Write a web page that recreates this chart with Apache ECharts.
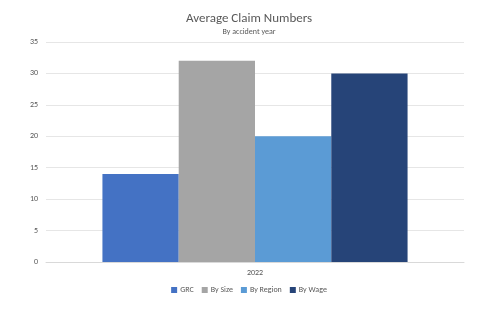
<!DOCTYPE html>
<html><head><meta charset="utf-8">
<script src="https://cdn.jsdelivr.net/npm/echarts@6/dist/echarts.min.js"></script>
<style>html,body{margin:0;padding:0;background:#fff}#c{width:498px;height:312px}</style>
</head><body><div id="c"></div>
<script>
const categories = ['2022'];
const seriesNames = ['GRC', 'By Size', 'By Region', 'By Wage'];
const grcValues = [14];
const sizeValues = [32];
const regionValues = [20];
const wageValues = [30];
const yTicks = [0, 5, 10, 15, 20, 25, 30, 35];

const colors = ['#4472C4', '#A5A5A5', '#5B9BD5', '#264478'];
const values = [grcValues, sizeValues, regionValues, wageValues];
const font = 'Calibri, Carlito, "Open Sans", sans-serif';

const chart = echarts.init(document.getElementById('c'), null, {renderer: 'canvas'});
chart.setOption({
  animation: false,
  backgroundColor: '#fff',
  title: {
    text: 'Average Claim Numbers',
    subtext: 'By accident year',
    left: 'center',
    top: 7,
    itemGap: 3,
    textStyle: {fontFamily: font, fontSize: 13, fontWeight: 'normal', color: '#595959'},
    subtextStyle: {fontFamily: font, fontSize: 8, color: '#595959'}
  },
  legend: {
    bottom: 13,
    left: 'center',
    itemWidth: 6,
    itemHeight: 6,
    itemGap: 8,
    icon: 'rect',
    textStyle: {fontFamily: font, fontSize: 8, color: '#595959', padding: [0, 0, 0, -2]},
    data: seriesNames
  },
  grid: {left: 46, right: 34, top: 42, bottom: 50},
  xAxis: {
    type: 'category',
    data: categories,
    axisLine: {lineStyle: {color: '#D9D9D9'}},
    axisTick: {show: false},
    axisLabel: {fontFamily: font, fontSize: 8, color: '#595959', margin: 7}
  },
  yAxis: {
    type: 'value',
    min: yTicks[0],
    max: yTicks[yTicks.length - 1],
    interval: 5,
    axisLine: {show: false},
    axisTick: {show: false},
    splitLine: {lineStyle: {color: '#E6E6E6'}},
    axisLabel: {fontFamily: font, fontSize: 8, color: '#595959', margin: 8}
  },
  series: seriesNames.map((n, i) => ({
    name: n,
    type: 'bar',
    data: values[i],
    barGap: '0%',
    barCategoryGap: '27%',
    itemStyle: {color: colors[i]}
  }))
});
</script></body></html>
